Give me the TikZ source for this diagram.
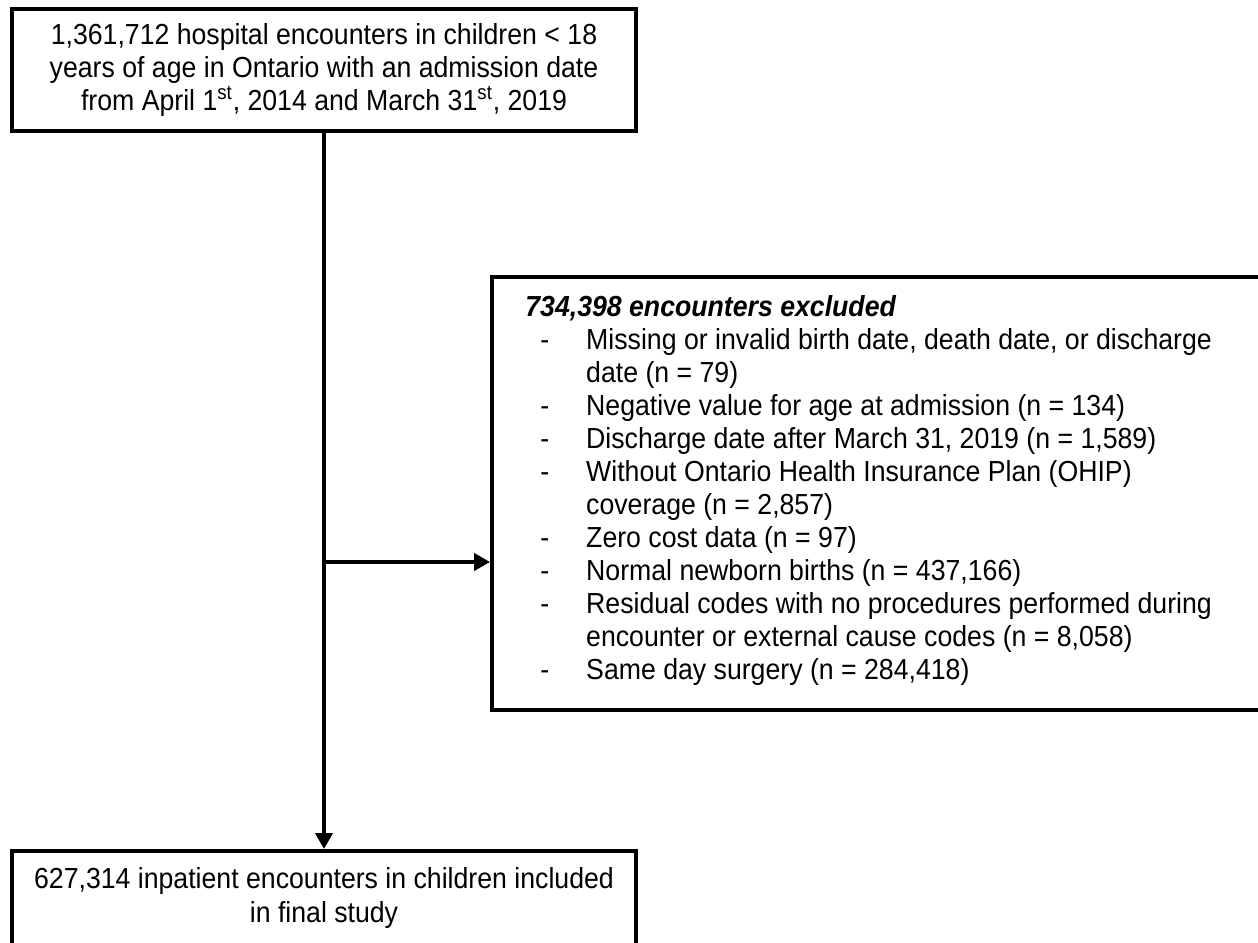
\documentclass[tikz,border=0pt]{standalone}
\usepackage{fontspec}
\setmainfont{Liberation Sans}[FakeStretch=0.92]
\usetikzlibrary{arrows.meta}

\begin{document}
\begin{tikzpicture}[x=0.02cm, y=-0.02cm,
    every node/.style={font=\fontsize{16.5}{18.8}\selectfont},
    box/.style={draw=black, line width=0.08cm, rectangle, inner sep=0pt, align=center},
    flow/.style={line width=0.08cm, -{Triangle[length=0.32cm, width=0.34cm]}}]
    \clip (0,0) rectangle (1258,943);
    \useasboundingbox (0,0) rectangle (1258,943);

    \node[box, minimum width=12.48cm, minimum height=2.44cm] (total) at (324,70)
        {1,361,712 hospital encounters in children < 18\\
         years of age in Ontario with an admission date\\
         from April 1\textsuperscript{st}, 2014 and March 31\textsuperscript{st}, 2019};

    \node[box, minimum width=15.4cm, minimum height=8.66cm] (excl) at (877,493.5) {};
    \node[anchor=north west, inner sep=0pt] (excltext) at (525,293)
        {\begin{tabular}{@{\hspace{0.3cm}}l@{\hspace{0.74cm}}l@{}}
         \multicolumn{2}{@{}l}{\textbf{\textit{734,398 encounters excluded}}}\\
         - & Missing or invalid birth date, death date, or discharge\\
           & date (n = 79)\\
         - & Negative value for age at admission (n = 134)\\
         - & Discharge date after March 31, 2019 (n = 1,589)\\
         - & Without Ontario Health Insurance Plan (OHIP)\\
           & coverage (n = 2,857)\\
         - & Zero cost data (n = 97)\\
         - & Normal newborn births (n = 437,166)\\
         - & Residual codes with no procedures performed during\\
           & encounter or external cause codes (n = 8,058)\\
         - & Same day surgery (n = 284,418)
         \end{tabular}};

    \node[box, minimum width=12.48cm, minimum height=1.88cm] (final) at (324,898)
        {627,314 inpatient encounters in children included\\
         in final study};

    \path (total.south) ++(0,429) coordinate (branch);
    \draw[flow] (total.south) -- (final.north);
    \draw[flow] (branch) -- (branch -| excl.west);
\end{tikzpicture}
\end{document}
